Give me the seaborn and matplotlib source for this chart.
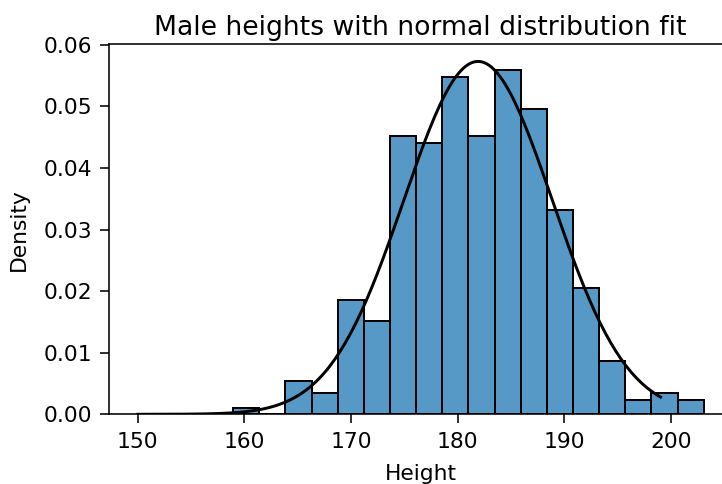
import numpy as np
import pandas as pd
import matplotlib
matplotlib.use("Agg")
import matplotlib.pyplot as plt
import seaborn as sns

# histogram bins (18 equal bins from the sample min to max)
bin_lo = 158.95
bin_hi = 203.05
n_bins = 18
densities = [0.00107, 0.0, 0.0054, 0.0034, 0.0185, 0.0151, 0.0452, 0.0441, 0.0548,
             0.0452, 0.0559, 0.0496, 0.0332, 0.0205, 0.0086, 0.0023, 0.0034, 0.0023]

# normal fit parameters and curve range
mu = 181.9
sigma = 6.96
fit_lo = 150
fit_hi = 199

bin_edges = np.linspace(bin_lo, bin_hi, n_bins + 1)
bin_centers = (bin_edges[:-1] + bin_edges[1:]) / 2
df = pd.DataFrame({"Height": bin_centers, "Density": densities})

x_fit = np.linspace(fit_lo, fit_hi, 200)
y_fit = np.exp(-0.5 * ((x_fit - mu) / sigma) ** 2) / (sigma * np.sqrt(2 * np.pi))

dpi = 142
fig = plt.figure(figsize=(722 / dpi, 484 / dpi), dpi=dpi)
ax = fig.add_axes([0.1514, 0.144, 0.8625, 0.7645])

# bins as a plain list: seaborn compares bins to "auto" when weights are given
sns.histplot(data=df, x="Height", weights="Density", bins=bin_edges.tolist(),
             stat="count", ax=ax)
ax.plot(x_fit, y_fit, color="k", linewidth=1.5)

ax.set_title("Male heights with normal distribution fit", fontsize=13.5, pad=4.5)
ax.set_xlabel("Height", fontsize=11, labelpad=6)
ax.set_ylabel("Density", fontsize=11, labelpad=7)
ax.tick_params(labelsize=11, length=4.4, pad=4.5)
ax.set_ylim(0, 0.0601)

fig.savefig("out.png", dpi=dpi)
